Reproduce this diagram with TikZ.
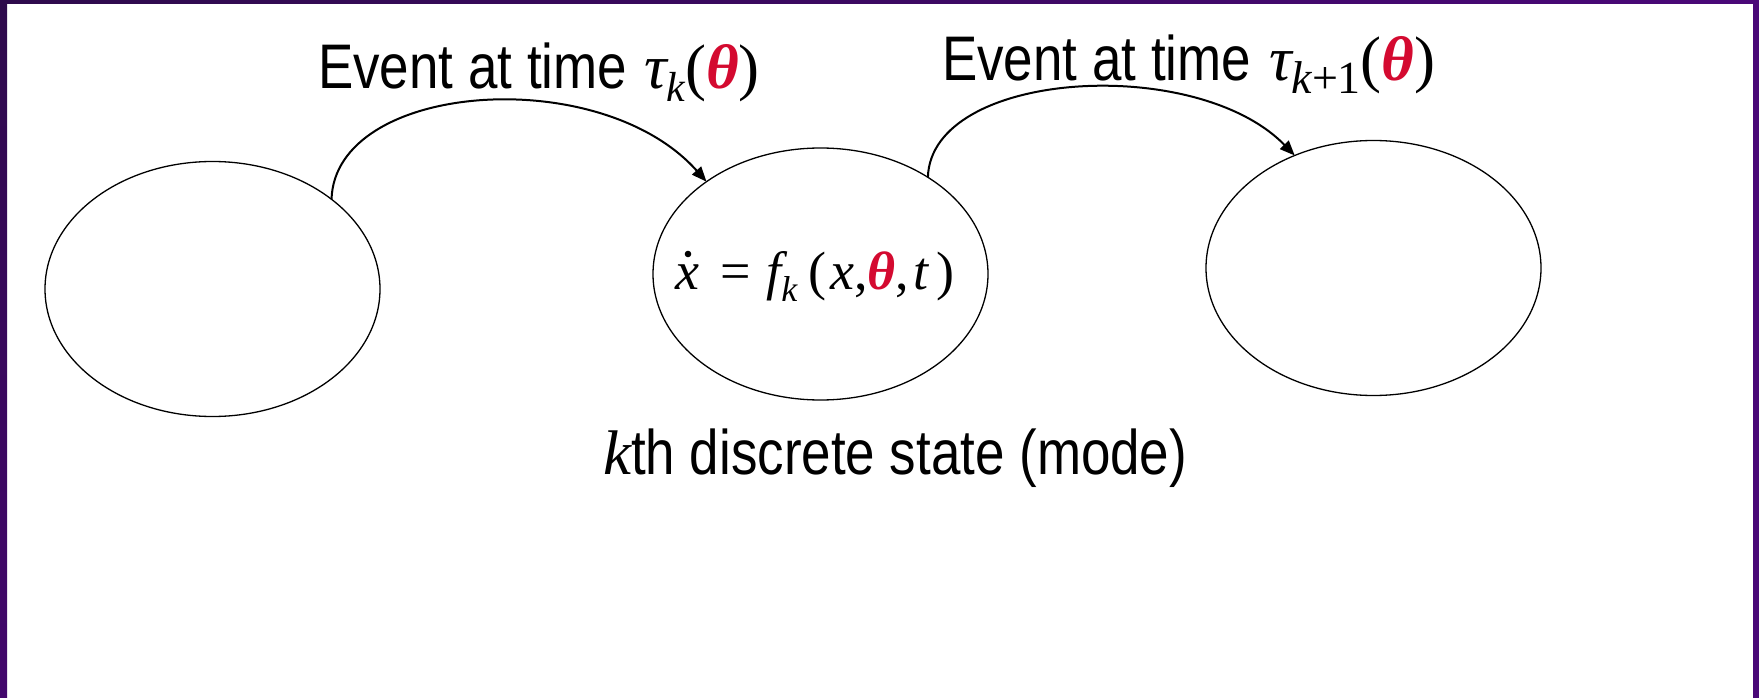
\documentclass[tikz,border=0pt]{standalone}
\usepackage{fontspec}
\setmainfont{Liberation Sans}[FakeStretch=0.84]
\newfontfamily\tms{Liberation Serif}
\usetikzlibrary{arrows.meta,shapes.geometric}
\definecolor{thred}{RGB}{212,10,48}
\definecolor{bordA}{RGB}{46,10,76}
\definecolor{bordB}{RGB}{74,8,120}
\tikzset{
  mode/.style={ellipse,draw=black,line width=1.3pt,minimum width=335pt,minimum height=255pt,inner sep=0pt,outer sep=0pt},
  event/.style={-{Triangle[length=15pt,width=12pt]},line width=2pt,black},
  lbl/.style={inner sep=0pt,anchor=base west,font=\fontsize{63}{63}\selectfont}
}
\begin{document}
\begin{tikzpicture}[x=1pt,y=-1pt]
\useasboundingbox (0,0) rectangle (1759,698);
\fill[white] (0,0) rectangle (1759,698);
% border
\shade[left color=bordA,right color=bordB] (0,0) rectangle (1759,4);
\shade[top color=bordA,bottom color=bordB!90!black] (0,0) rectangle (7,698);
\fill[bordB] (1753,0) rectangle (1759,698);
% modes
\node[mode] (e1) at (212.5,289) {};
\node[mode,minimum height=252pt] (e2) at (820.5,274) {};
\node[mode] (e3) at (1373.5,268) {};
% equation
\node[inner sep=0pt,anchor=base west,font=\tms\fontsize{54}{54}\selectfont] (eq) at (675,289)
 {\itshape x\upshape\hspace{0.4em}=\hspace{0.28em}\itshape f\raisebox{-12pt}{\fontsize{36}{36}\selectfont k}\hspace{0.2em}\upshape(\hspace{0.08em}\itshape x\upshape,{\color{thred}\bfseries\itshape θ}\upshape,\hspace{0.08em}\itshape t\hspace{0.15em}\upshape)};
\fill ([xshift=13pt,yshift=35pt]eq.base west) circle (3.3pt);
% labels
\node[lbl] (l1) at (318,89)
 {Event at time\hspace{17pt}{\tms\itshape τ\raisebox{-13pt}{\fontsize{42}{42}\selectfont k}\upshape(\textcolor{thred}{\bfseries\itshape θ})}};
\node[lbl] (l2) at (942,81)
 {Event at time\hspace{18pt}{\tms\itshape τ\raisebox{-13pt}{\fontsize{46}{46}\selectfont k\upshape+1}\upshape(\textcolor{thred}{\bfseries\itshape θ})}};
\node[lbl] (l3) at (603,474)
 {{\tms\itshape k}th discrete state (mode)};
% events
\draw[event] (e1.37) .. controls (335,82) and (600,62) .. (e2.141);
\draw[event] (e2.42) .. controls (931,70) and (1196,54) .. (e3.125);
\end{tikzpicture}
\end{document}
